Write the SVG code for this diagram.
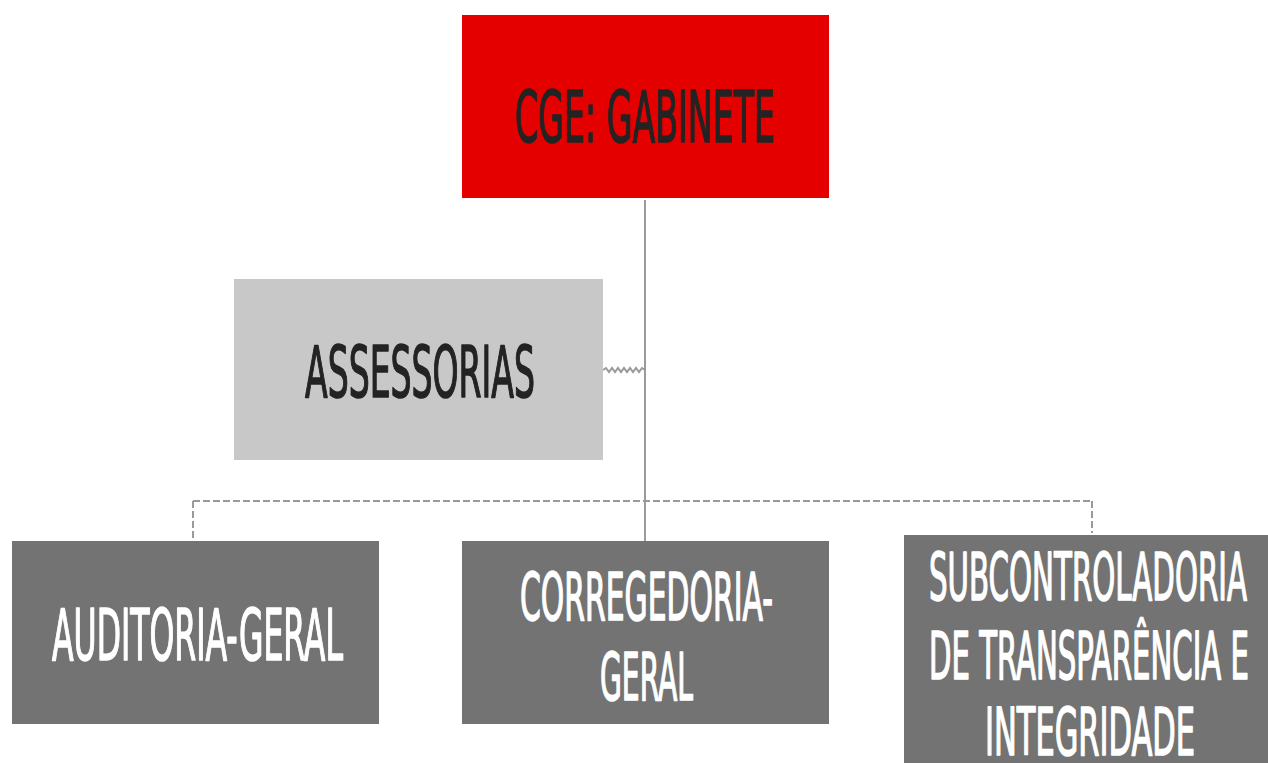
<svg xmlns="http://www.w3.org/2000/svg" width="1268" height="763" viewBox="0 0 1268 763">
<style>
.t{font-family:"Liberation Sans Narrow","DejaVu Sans Condensed","Liberation Sans",sans-serif;font-weight:normal;font-size:72px;stroke-width:1.6;stroke-linejoin:round}
.s{font-size:66px}
.dark{fill:#232323;stroke:#232323}
.light{fill:#ffffff;stroke:#ffffff}
.conn{fill:none;stroke:#9a9a9a;stroke-width:2}
.dash{stroke-dasharray:7 3}
</style>
<rect width="1268" height="763" fill="#ffffff"/>
<g id="connectors">
<line class="conn" x1="645" y1="200" x2="645" y2="541" stroke="#8c8c8c"/>
<line class="conn dash" x1="193" y1="501" x2="1092" y2="501"/>
<line class="conn dash" x1="193" y1="501" x2="193" y2="541"/>
<line class="conn dash" x1="1092" y1="501" x2="1092" y2="533"/>
<polyline class="conn" stroke-width="1.5" points="603,370 606,368 609,372 612,368 615,372 618,368 621,372 624,368 627,372 630,368 633,372 636,368 639,372 642,368 645,370"/>
</g>
<g id="gabinete">
<rect x="462" y="15" width="367" height="183" fill="#e50000"/>
<text class="t dark" x="515" y="142" textLength="260" lengthAdjust="spacingAndGlyphs">CGE: GABINETE</text>
</g>
<g id="assessorias">
<rect x="234" y="279" width="369" height="181" fill="#c8c8c8"/>
<text class="t dark" x="305" y="397" textLength="230" lengthAdjust="spacingAndGlyphs">ASSESSORIAS</text>
</g>
<g id="auditoria">
<rect x="12" y="541" width="367" height="183" fill="#737373"/>
<text class="t light" x="52" y="660" textLength="291" lengthAdjust="spacingAndGlyphs">AUDITORIA-GERAL</text>
</g>
<g id="corregedoria">
<rect x="462" y="541" width="367" height="183" fill="#737373"/>
<text class="t s light" x="520" y="620" textLength="253" lengthAdjust="spacingAndGlyphs">CORREGEDORIA-</text>
<text class="t s light" x="600" y="700" textLength="93" lengthAdjust="spacingAndGlyphs">GERAL</text>
</g>
<g id="subcontroladoria">
<rect x="904" y="535" width="364" height="228" fill="#737373"/>
<text class="t s light" x="929" y="600" textLength="318" lengthAdjust="spacingAndGlyphs">SUBCONTROLADORIA</text>
<text class="t s light" x="929" y="679" textLength="320" lengthAdjust="spacingAndGlyphs">DE TRANSPARÊNCIA E</text>
<text class="t s light" x="985" y="755" textLength="210" lengthAdjust="spacingAndGlyphs">INTEGRIDADE</text>
</g>
</svg>
